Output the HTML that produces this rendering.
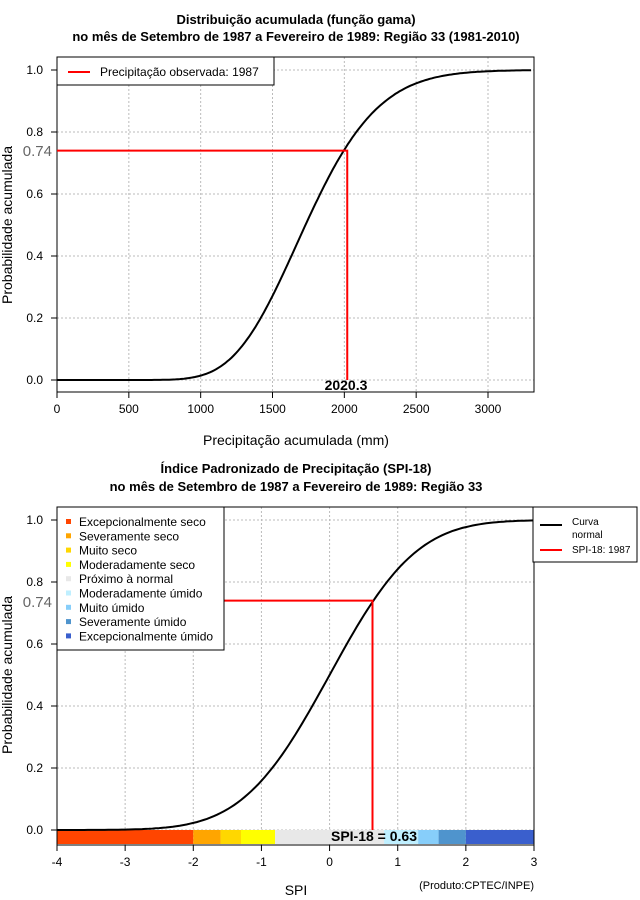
<!DOCTYPE html>
<html><head><meta charset="utf-8"><style>
body{margin:0;background:#fff}
svg{display:block;font-family:"Liberation Sans",sans-serif}
.t{font-weight:bold;font-size:13px;text-anchor:middle}
.tk{font-size:12px}
.g{stroke:#bbb;stroke-dasharray:2,2;stroke-width:1}
</style></head><body>
<svg id="s" width="640" height="900" xmlns="http://www.w3.org/2000/svg">
<text class="t" x="296" y="24">Distribuição acumulada (função gama)</text>
<text class="t" x="296" y="41">no mês de Setembro de 1987 a Fevereiro de 1989: Região 33 (1981-2010)</text>
<g id="top"></g>
<text class="t" x="296" y="473">Índice Padronizado de Precipitação (SPI-18)</text>
<text class="t" x="296" y="491">no mês de Setembro de 1987 a Fevereiro de 1989: Região 33</text>
<g id="bot"></g>
</svg>
<script>
var NS="http://www.w3.org/2000/svg";
function el(p,t,a,tx){var e=document.createElementNS(NS,t);for(var k in a)e.setAttribute(k,a[k]);if(tx!=null)e.textContent=tx;p.appendChild(e);return e;}
function Phi(z){var t=1/(1+0.2316419*Math.abs(z));var d=0.3989423*Math.exp(-z*z/2);var p=d*t*(0.3193815+t*(-0.3565638+t*(1.781478+t*(-1.821256+t*1.330274))));return z>0?1-p:p;}
// TOP
var T=document.getElementById('top');
var X0=57,X1=534,YT=57,YB=392;
function tx(v){return 57+v*431/3000;} function ty(p){return 380-p*310;}
[0,500,1000,1500,2000,2500,3000].forEach(function(v){var x=tx(v);el(T,'line',{x1:x,y1:YT,x2:x,y2:YB,class:'g'});el(T,'line',{x1:x,y1:YB,x2:x,y2:YB+6,stroke:'#000'});el(T,'text',{x:x,y:YB+21,class:'tk','text-anchor':'middle'},v);});
[0,0.2,0.4,0.6,0.8,1].forEach(function(v){var y=ty(v);el(T,'line',{x1:X0,y1:y,x2:X1,y2:y,class:'g'});el(T,'line',{x1:X0-6,y1:y,x2:X0,y2:y,stroke:'#000'});el(T,'text',{x:X0-14,y:y+4,class:'tk','text-anchor':'end'},v.toFixed(1));});
el(T,'rect',{x:X0,y:YT,width:X1-X0,height:YB-YT,fill:'none',stroke:'#000'});
var k=19.4,th=90.7,d="";
for(var v=0;v<=3300;v+=15){var z=(Math.pow(v/(k*th),1/3)-(1-1/(9*k)))/Math.sqrt(1/(9*k));d+=(v?"L":"M")+tx(v).toFixed(1)+","+ty(Phi(z)).toFixed(1);}
el(T,'path',{d:d,fill:'none',stroke:'#000','stroke-width':2});
el(T,'path',{d:"M"+X0+","+ty(0.74)+"H"+tx(2020.3)+"V"+ty(0),fill:'none',stroke:'#f00','stroke-width':2});
el(T,'text',{x:52,y:156,'font-size':15,fill:'#666','text-anchor':'end'},'0.74');
el(T,'text',{x:346,y:390,'font-size':14,'font-weight':'bold','text-anchor':'middle'},'2020.3');
el(T,'rect',{x:57,y:57,width:217,height:28,fill:'#fff',stroke:'#000'});
el(T,'line',{x1:68,y1:72,x2:90,y2:72,stroke:'#f00','stroke-width':2});
el(T,'text',{x:100,y:76,'font-size':12},'Precipitação observada: 1987');
el(T,'text',{x:296,y:445,'font-size':14,'text-anchor':'middle'},'Precipitação acumulada (mm)');
el(T,'text',{x:12,y:225,'font-size':14,'text-anchor':'middle',transform:'rotate(-90 12 225)'},'Probabilidade acumulada');
// BOTTOM
var B=document.getElementById('bot');
var BT=507,BB=845;
function bx(v){return 57+(v+4)*477/7;} function by(p){return 830-p*310;}
[-4,-3,-2,-1,0,1,2,3].forEach(function(v){var x=bx(v);el(B,'line',{x1:x,y1:BT,x2:x,y2:BB,class:'g'});el(B,'line',{x1:x,y1:BB,x2:x,y2:BB+6,stroke:'#000'});el(B,'text',{x:x,y:BB+21,class:'tk','text-anchor':'middle'},v);});
[0,0.2,0.4,0.6,0.8,1].forEach(function(v){var y=by(v);el(B,'line',{x1:X0,y1:y,x2:X1,y2:y,class:'g'});el(B,'line',{x1:X0-6,y1:y,x2:X0,y2:y,stroke:'#000'});el(B,'text',{x:X0-14,y:y+4,class:'tk','text-anchor':'end'},v.toFixed(1));});
var segs=[[-4,-2,'#FF4500'],[-2,-1.6,'#FFA500'],[-1.6,-1.3,'#FFD700'],[-1.3,-0.8,'#FFFF00'],[-0.8,0.8,'#E8E8E8'],[0.8,1.3,'#BFEFFF'],[1.3,1.6,'#87CEFA'],[1.6,2,'#4F94CD'],[2,3,'#3A5FCD']];
segs.forEach(function(s){el(B,'rect',{x:bx(s[0]),y:830,width:bx(s[1])-bx(s[0]),height:14,fill:s[2]});});
el(B,'rect',{x:X0,y:BT,width:X1-X0,height:BB-BT,fill:'none',stroke:'#000'});
d="";for(var v=-4;v<=3.001;v+=0.05){d+=(v>-4?"L":"M")+bx(v).toFixed(1)+","+by(Phi(v)).toFixed(1);}
el(B,'path',{d:d,fill:'none',stroke:'#000','stroke-width':2});
el(B,'path',{d:"M"+X0+","+by(0.74)+"H"+bx(0.63)+"V"+by(0),fill:'none',stroke:'#f00','stroke-width':2});
el(B,'text',{x:52,y:607,'font-size':15,fill:'#666','text-anchor':'end'},'0.74');
el(B,'text',{x:374,y:841,'font-size':14,'font-weight':'bold','text-anchor':'middle'},'SPI-18 = 0.63');
el(B,'rect',{x:57,y:507,width:167,height:143,fill:'#fff',stroke:'#000'});
var labs=['Excepcionalmente seco','Severamente seco','Muito seco','Moderadamente seco','Próximo à normal','Moderadamente úmido','Muito úmido','Severamente úmido','Excepcionalmente úmido'];
var cols=['#FF4500','#FFA500','#FFD700','#FFFF00','#E8E8E8','#BFEFFF','#87CEFA','#4F94CD','#3A5FCD'];
labs.forEach(function(l,i){var y=522+i*14.3;el(B,'rect',{x:66,y:y-3,width:5,height:5,fill:cols[i]});el(B,'text',{x:79,y:y+4,'font-size':12},l);});
el(B,'rect',{x:533,y:507,width:104,height:55,fill:'#fff',stroke:'#000'});
el(B,'line',{x1:540,y1:525,x2:562,y2:525,stroke:'#000','stroke-width':2});
el(B,'text',{x:572,y:525,'font-size':10},'Curva');
el(B,'text',{x:572,y:538,'font-size':10},'normal');
el(B,'line',{x1:540,y1:550,x2:562,y2:550,stroke:'#f00','stroke-width':2});
el(B,'text',{x:572,y:553,'font-size':10},'SPI-18: 1987');
el(B,'text',{x:296,y:895,'font-size':14,'text-anchor':'middle'},'SPI');
el(B,'text',{x:534,y:889,'font-size':11,'text-anchor':'end'},'(Produto:CPTEC/INPE)');
el(B,'text',{x:12,y:675,'font-size':14,'text-anchor':'middle',transform:'rotate(-90 12 675)'},'Probabilidade acumulada');
</script>
</body></html>
